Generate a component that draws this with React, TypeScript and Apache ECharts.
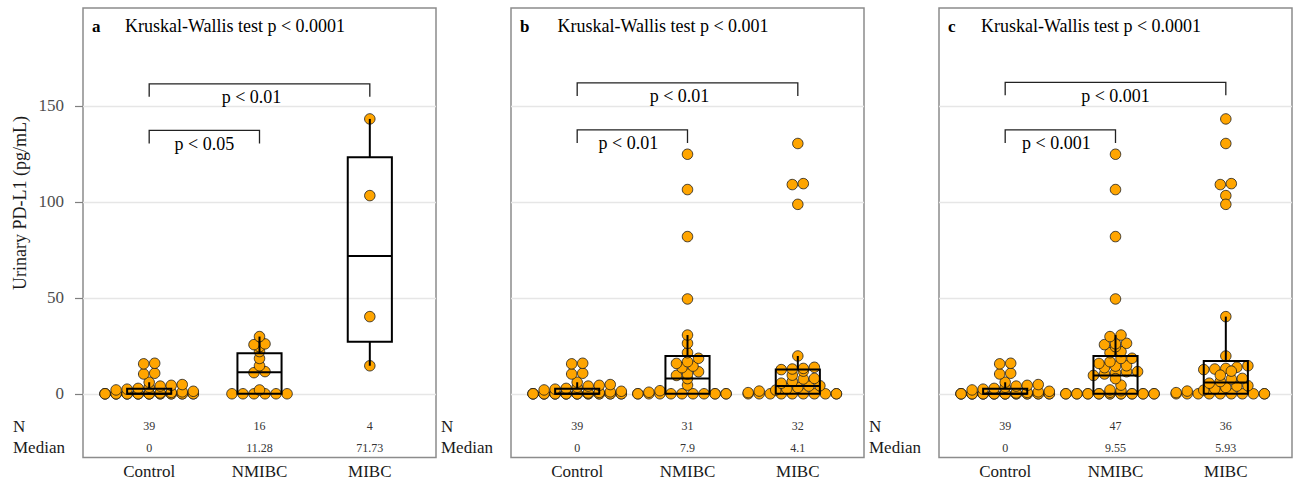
import React, { useEffect, useRef } from 'react';
import * as echarts from 'echarts';

// ---------------- data ----------------
const CATEGORIES = ['Control', 'NMIBC', 'MIBC'];
const Y_TICKS = [0, 50, 100, 150];
const PANEL_LETTERS = ['a', 'b', 'c'];
const KW_TITLES = [
  'Kruskal-Wallis test p < 0.0001',
  'Kruskal-Wallis test p < 0.001',
  'Kruskal-Wallis test p < 0.0001',
];

// Urinary PD-L1 (pg/mL) per subject
const CONTROL = [
  0, 0, 0, 0, 0, 0, 0, 0, 0, 0, 0, 0, 0, 0, 0, 0, 0, 0, 0, 0, 0, 0, 0,
  0.4, 0.7, 1.0, 1.3, 2.0, 2.4, 2.8, 3.4, 4.0, 4.4, 4.8, 6.0, 10.3, 10.7, 15.6, 15.9,
];
const A_NMIBC = [0, 0, 0, 0, 0, 0, 2.0, 11.0, 11.56, 14.6, 18.4, 22.0, 24.5, 25.6, 26.0, 29.8];
const A_MIBC = [14.6, 40.2, 103.26, 143.2];
const B_NMIBC = [
  0, 0, 0, 0, 0, 0, 0, 0, 0, 0, 0, 0, 0.8, 1.6, 4.5, 7.9, 9.55, 10.3, 11.5, 13.6, 14.4,
  15.8, 16.7, 18.5, 21.4, 26.3, 30.6, 49.4, 81.9, 106.4, 124.8,
];
const B_MIBC = [
  0, 0, 0, 0, 0, 0, 0, 0, 0, 0, 0.6, 1.4, 1.9, 2.6, 3.3, 4.0, 4.2, 5.5, 6.36, 7.7, 8.0,
  9.7, 11.8, 12.6, 12.9, 13.2, 13.8, 19.7, 98.7, 109.0, 109.5, 130.4,
];
// panel c pools the cohorts of panels a and b
const C_NMIBC = [...A_NMIBC, ...B_NMIBC];
const C_MIBC = [...A_MIBC, ...B_MIBC];

// box statistics: [lower whisker, Q1, median, Q3, upper whisker]
const BOX_A = [[0, 0, 0, 2.6, 6.0], [0, 0, 11.28, 21.1, 29.8], [14.6, 27.1, 71.73, 123.2, 143.2]];
const BOX_B = [[0, 0, 0, 2.6, 6.0], [0, 0, 7.9, 19.7, 30.6], [0, 0, 4.1, 12.7, 19.7]];
const BOX_C = [[0, 0, 0, 2.6, 6.0], [0, 0, 9.55, 19.7, 30.6], [0, 0, 5.93, 17.1, 40.2]];

const N_A = ['39', '16', '4'];
const N_B = ['39', '31', '32'];
const N_C = ['39', '47', '36'];
const MED_A = ['0', '11.28', '71.73'];
const MED_B = ['0', '7.9', '4.1'];
const MED_C = ['0', '9.55', '5.93'];

// pairwise comparison brackets: [from category, to category, bracket height]
const BRACKETS_A = [[1, 3, 161.5], [1, 2, 137.2]];
const BRACKETS_B = [[1, 3, 162.0], [1, 2, 137.5]];
const BRACKETS_C = [[1, 3, 162.3], [1, 2, 137.5]];
const BRACKET_LABELS_A = ['p < 0.01', 'p < 0.05'];
const BRACKET_LABELS_B = ['p < 0.01', 'p < 0.01'];
const BRACKET_LABELS_C = ['p < 0.001', 'p < 0.001'];

// ---------------- layout / style ----------------
const FONT = 'Liberation Serif, Times New Roman, serif';
const GRID_LEFT = [83, 511, 939];
const GRID_W = 353;
const GRID_TOP = 8;
const GRID_H = 449.5;
const X_MIN = 0.4;
const X_MAX = 3.6;
const Y_MIN = -33.2;
const Y_MAX = 201;
const SWARM_SPACING = 0.1; // x units between neighbours in a row
const SWARM_BIN = 3.4; // y units per swarm row
const CORRAL = 0.9; // wrap width
const BOX_HALF = 0.2;
const BRACKET_DROP = 6.8;
const BRACKET_LABEL_GAP = 13.5;
// horizontal nudge (px) of each bracket label, as placed in the figure
const LABEL_NUDGE_A = [-8, 0];
const LABEL_NUDGE_B = [-8, -4];
const LABEL_NUDGE_C = [0, -4];
const N_ROW = -16.8;
const MED_ROW = -28;

function swarm(values: number[], cat: number): number[][] {
  const rows = new Map<number, number[]>();
  values.forEach((v) => {
    const k = Math.round(v / SWARM_BIN);
    if (!rows.has(k)) rows.set(k, []);
    rows.get(k)!.push(v);
  });
  const pts: number[][] = [];
  rows.forEach((row) => {
    const sorted = [...row].sort((p, q) => p - q);
    const n = sorted.length;
    sorted.forEach((v, i) => {
      const raw = (i - (n - 1) / 2) * SWARM_SPACING;
      const off = ((((raw + CORRAL / 2) % CORRAL) + CORRAL) % CORRAL) - CORRAL / 2;
      pts.push([cat + off, v]);
    });
  });
  return pts;
}

const PANELS = [
  { groups: [CONTROL, A_NMIBC, A_MIBC], box: BOX_A, n: N_A, med: MED_A, br: BRACKETS_A, brl: BRACKET_LABELS_A, nudge: LABEL_NUDGE_A },
  { groups: [CONTROL, B_NMIBC, B_MIBC], box: BOX_B, n: N_B, med: MED_B, br: BRACKETS_B, brl: BRACKET_LABELS_B, nudge: LABEL_NUDGE_B },
  { groups: [CONTROL, C_NMIBC, C_MIBC], box: BOX_C, n: N_C, med: MED_C, br: BRACKETS_C, brl: BRACKET_LABELS_C, nudge: LABEL_NUDGE_C },
];

function buildOption() {
  const series: any[] = [];
  PANELS.forEach((p, i) => {
    const pts: number[][] = [];
    p.groups.forEach((g, gi) => pts.push(...swarm(g, gi + 1)));
    series.push({
      type: 'scatter',
      xAxisIndex: i,
      yAxisIndex: i,
      data: pts,
      symbol: 'circle',
      symbolSize: 10.5,
      silent: true,
      z: 2,
      itemStyle: { color: '#FFA500', borderColor: '#1a1a1a', borderWidth: 0.8, opacity: 1 },
    });
    series.push({
      type: 'custom',
      xAxisIndex: i,
      yAxisIndex: i,
      z: 3,
      silent: true,
      clip: false,
      data: p.box.map((b, bi) => [bi + 1, ...b]),
      renderItem: (params: any, api: any) => {
        const c = api.value(0);
        const lo = api.value(1), q1 = api.value(2), md = api.value(3), q3 = api.value(4), hi = api.value(5);
        const tl = api.coord([c - BOX_HALF, q3]);
        const br = api.coord([c + BOX_HALF, q1]);
        const ml = api.coord([c - BOX_HALF, md]);
        const mr = api.coord([c + BOX_HALF, md]);
        const pHi = api.coord([c, hi]);
        const pQ3 = api.coord([c, q3]);
        const pQ1 = api.coord([c, q1]);
        const pLo = api.coord([c, lo]);
        const st = { stroke: '#000', lineWidth: 2, fill: 'none' };
        return {
          type: 'group',
          children: [
            { type: 'line', shape: { x1: pQ3[0], y1: pQ3[1], x2: pHi[0], y2: pHi[1] }, style: st },
            { type: 'line', shape: { x1: pQ1[0], y1: pQ1[1], x2: pLo[0], y2: pLo[1] }, style: st },
            { type: 'rect', shape: { x: tl[0], y: tl[1], width: br[0] - tl[0], height: br[1] - tl[1] }, style: st },
            { type: 'line', shape: { x1: ml[0], y1: ml[1], x2: mr[0], y2: mr[1] }, style: st },
          ],
        };
      },
    });
    series.push({
      type: 'custom',
      xAxisIndex: i,
      yAxisIndex: i,
      z: 3,
      silent: true,
      clip: false,
      data: p.br,
      renderItem: (params: any, api: any) => {
        const f = api.value(0), t = api.value(1), y = api.value(2);
        const a = api.coord([f, y - BRACKET_DROP]);
        const b = api.coord([f, y]);
        const c = api.coord([t, y]);
        const d = api.coord([t, y - BRACKET_DROP]);
        return {
          type: 'group',
          children: [
            { type: 'polyline', shape: { points: [a, b, c, d] }, style: { stroke: '#222', lineWidth: 1.3, fill: 'none' } },
            {
              type: 'text',
              x: (b[0] + c[0]) / 2 + p.nudge[params.dataIndex],
              y: b[1] + BRACKET_LABEL_GAP,
              style: {
                text: p.brl[params.dataIndex],
                align: 'center',
                verticalAlign: 'middle',
                fontSize: 18,
                fontFamily: FONT,
                fill: '#000',
              },
            },
          ],
        };
      },
    });
    series.push({
      type: 'custom',
      xAxisIndex: i,
      yAxisIndex: i,
      z: 3,
      silent: true,
      clip: false,
      data: CATEGORIES.map((_, ci) => [ci + 1]),
      renderItem: (params: any, api: any) => {
        const c = api.value(0);
        const pn = api.coord([c, N_ROW]);
        const pm = api.coord([c, MED_ROW]);
        const ts = { align: 'center', verticalAlign: 'middle', fontSize: 12, fontFamily: FONT, fill: '#333' };
        return {
          type: 'group',
          children: [
            { type: 'text', x: pn[0], y: pn[1], style: { ...ts, text: p.n[params.dataIndex] } },
            { type: 'text', x: pm[0], y: pm[1], style: { ...ts, text: p.med[params.dataIndex] } },
          ],
        };
      },
    });
  });

  const graphic: any[] = [
    {
      type: 'text',
      x: 20,
      y: 203,
      rotation: Math.PI / 2,
      style: { text: 'Urinary PD-L1 (pg/mL)', align: 'center', verticalAlign: 'middle', fontSize: 18, fontFamily: FONT, fill: '#1a1a1a' },
    },
  ];
  GRID_LEFT.forEach((l, i) => {
    graphic.push(
      { type: 'text', x: l + 9, y: 26, style: { text: PANEL_LETTERS[i], align: 'left', verticalAlign: 'middle', fontSize: 17, fontWeight: 'bold', fontFamily: FONT, fill: '#000' } },
      { type: 'text', x: l + 152, y: 26, style: { text: KW_TITLES[i], align: 'center', verticalAlign: 'middle', fontSize: 18, fontFamily: FONT, fill: '#000' } },
      { type: 'text', x: l - 70, y: 426, style: { text: 'N', align: 'left', verticalAlign: 'middle', fontSize: 17, fontFamily: FONT, fill: '#1a1a1a' } },
      { type: 'text', x: l - 70, y: 447.5, style: { text: 'Median', align: 'left', verticalAlign: 'middle', fontSize: 17, fontFamily: FONT, fill: '#1a1a1a' } },
    );
  });

  return {
    animation: false,
    backgroundColor: '#ffffff',
    textStyle: { fontFamily: FONT },
    grid: GRID_LEFT.map((l) => ({
      left: l,
      top: GRID_TOP,
      width: GRID_W,
      height: GRID_H,
      show: true,
      borderColor: '#8c8c8c',
      borderWidth: 1.5,
      backgroundColor: 'transparent',
    })),
    xAxis: GRID_LEFT.map((_, i) => ({
      type: 'value',
      gridIndex: i,
      min: X_MIN,
      max: X_MAX,
      axisLine: { show: false },
      axisTick: { show: false },
      splitLine: { show: false },
      axisLabel: {
        customValues: [1, 2, 3],
        formatter: (v: number) => CATEGORIES[Math.round(v) - 1] ?? '',
        margin: 5,
        fontSize: 17,
        fontFamily: FONT,
        color: '#1a1a1a',
      },
    })),
    yAxis: GRID_LEFT.map((_, i) => ({
      type: 'value',
      gridIndex: i,
      min: Y_MIN,
      max: Y_MAX,
      axisLine: { show: false },
      axisTick: { show: i === 0, customValues: Y_TICKS, length: 8, lineStyle: { color: '#7f7f7f', width: 1.2 } },
      axisLabel: { show: i === 0, customValues: Y_TICKS, margin: 19, fontSize: 17, fontFamily: FONT, color: '#4d4d4d' },
      splitLine: { show: true, lineStyle: { color: '#e6e6e6', width: 1.3 } },
    })),
    series,
    graphic,
  };
}

export default function App() {
  const ref = useRef<HTMLDivElement>(null);
  useEffect(() => {
    if (!ref.current) return;
    const chart = echarts.init(ref.current, undefined, { renderer: 'svg' });
    chart.setOption(buildOption() as any);
    return () => chart.dispose();
  }, []);
  return (
    <div
      ref={ref}
      style={{ position: 'fixed', left: 0, top: 0, width: 1299, height: 485, background: '#fff' }}
    />
  );
}
